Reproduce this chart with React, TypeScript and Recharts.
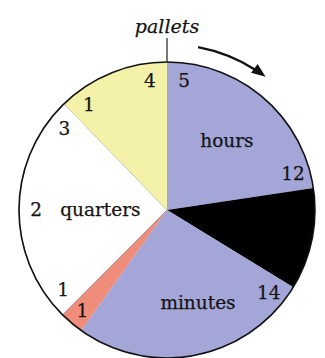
import * as React from 'react';
import { PieChart, Pie, Cell } from 'recharts';

// slices clockwise from 12 o'clock, sizes in degrees
const sliceKeys = ['hours', 'dark', 'minutes', 'wedge', 'quarters', 'pallet'];
const sliceNames = ['hours', '', 'minutes', '', 'quarters', ''];
const sliceValues = [81.5, 40, 94, 9.4, 91, 44.1];
const startLabels = ['5', '', '14', '', '1', '1'];
const midLabels = ['', '', '', '1', '2', ''];
const endLabels = ['12', '', '', '', '3', '4'];
const topLabel = 'pallets';

const colors = ['#a3a6d6', '#000000', '#a3a6d6', '#f08c7a', '#ffffff', '#f4f1a8'];
const nameLayout: Record<string, { r: number; shift: number }> = {
    hours: { r: 0.62, shift: 0 },
    minutes: { r: 0.66, shift: -7 },
    quarters: { r: 0.45, shift: 0 },
};

const data = sliceKeys.map((k, i) => ({ key: k, value: sliceValues[i] }));

const RAD = Math.PI / 180;
const FONT = '"DejaVu Serif", serif';
const FS = 18.5;

// recharts angle (ccw from 3 o'clock) -> point
const pt = (cx: number, cy: number, r: number, a: number) => ({
    x: cx + Math.cos(-a * RAD) * r,
    y: cy + Math.sin(-a * RAD) * r,
});

const Txt = ({ x, y, t }: { x: number; y: number; t: string }) => (
    <text x={x} y={y} textAnchor="middle" dominantBaseline="central" fontFamily={FONT} fontSize={FS} fill="#141414" stroke="#141414" strokeWidth={0.25}>{t}</text>
);

const Decorations = ({ cx, cy, R }: { cx: number; cy: number; R: number }) => {
    // arrow over the top right, clockwise
    const r = R * 1.12;
    const p = (deg: number) => ({ x: cx + r * Math.sin(deg * RAD), y: cy - r * Math.cos(deg * RAD) });
    const a0 = 10.8, aTip = 36.5;
    const s = p(a0), e = p(aTip - 4), tip = p(aTip);
    const dx = Math.cos(aTip * RAD), dy = Math.sin(aTip * RAD);
    const bx = tip.x - 14 * dx, by = tip.y - 14 * dy;
    const px = -dy * 5.5, py = dx * 5.5;
    return (
        <g>
            <circle cx={cx} cy={cy} r={R} fill="none" stroke="#111" strokeWidth={1.6} />
            <line x1={cx} y1={cy - R - 24} x2={cx} y2={cy - R} stroke="#222" strokeWidth={1.2} />
            <text x={cx} y={cy - R - 36} textAnchor="middle" dominantBaseline="central" fontFamily={FONT} fontStyle="italic" fontSize={19} fill="#141414" stroke="#141414" strokeWidth={0.25}>{topLabel}</text>
            <path d={`M${s.x},${s.y} A${r},${r} 0 0 1 ${e.x},${e.y}`} fill="none" stroke="#111" strokeWidth={2.4} />
            <polygon points={`${tip.x},${tip.y} ${bx + px},${by + py} ${bx - px},${by - py}`} fill="#111" />
        </g>
    );
};

const renderLabel = (props: any) => {
    const { cx, cy, startAngle, endAngle, outerRadius, index } = props;
    const R = outerRadius;
    const lr = R * 0.885;
    const off = 7.5;
    const mid = (startAngle + endAngle) / 2;
    const name = sliceNames[index];
    const items: React.ReactNode[] = [];
    if (startLabels[index]) {
        const q = pt(cx, cy, lr, startAngle - off);
        items.push(<Txt key="s" x={q.x} y={q.y} t={startLabels[index]} />);
    }
    if (midLabels[index]) {
        const q = pt(cx, cy, lr, mid);
        items.push(<Txt key="m" x={q.x} y={q.y} t={midLabels[index]} />);
    }
    if (endLabels[index]) {
        const q = pt(cx, cy, lr, endAngle + off);
        items.push(<Txt key="e" x={q.x} y={q.y} t={endLabels[index]} />);
    }
    if (name) {
        const lay = nameLayout[name];
        const q = pt(cx, cy, R * lay.r, mid - lay.shift);
        items.push(<Txt key="n" x={q.x} y={q.y} t={name} />);
    }
    if (index === sliceKeys.length - 1) {
        items.push(<Decorations key="d" cx={cx} cy={cy} R={R} />);
    }
    return <g>{items}</g>;
};

export default function App() {
    return (
        <div style={{ position: 'absolute', left: 0, top: 0, background: '#fff' }}>
            <PieChart width={325} height={358} margin={{ top: 0, right: 0, bottom: 0, left: 0 }}>
                <Pie
                    data={data}
                    dataKey="value"
                    nameKey="key"
                    cx={167}
                    cy={210}
                    outerRadius={148}
                    startAngle={90}
                    endAngle={-270}
                    stroke="none"
                    label={renderLabel}
                    labelLine={false}
                    isAnimationActive={false}
                >
                    {data.map((d, i) => (
                        <Cell key={d.key} fill={colors[i]} stroke={d.key === 'quarters' ? '#888' : 'none'} strokeWidth={0.8} />
                    ))}
                </Pie>
            </PieChart>
        </div>
    );
}
